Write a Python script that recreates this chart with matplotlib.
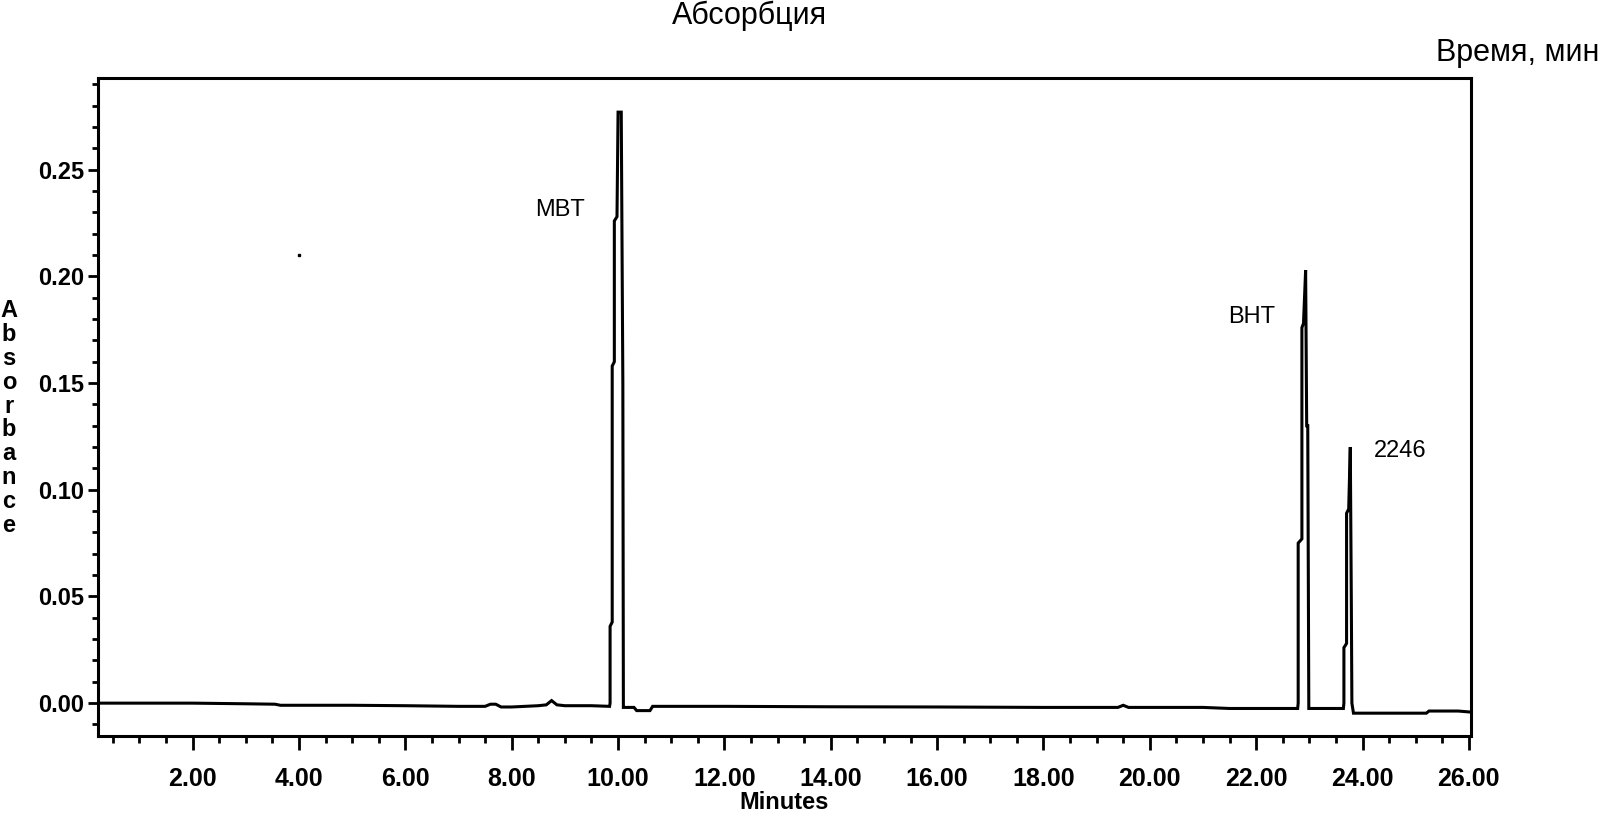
import matplotlib
matplotlib.use("Agg")
import matplotlib.pyplot as plt
from matplotlib.ticker import MultipleLocator, FormatStrFormatter

# ── chromatogram trace (minutes, absorbance) ──
baseline_t = [0.22, 1.0, 2.0, 3.0, 3.55, 3.65, 5.0, 6.0, 7.0, 7.5, 7.6, 7.7, 7.8,
              8.0, 8.5, 8.65, 8.75, 8.85, 9.0, 9.5, 9.84]
baseline_a = [0.0, 0.0, 0.0, -0.0003, -0.0005, -0.001, -0.001, -0.0012, -0.0015,
              -0.0015, -0.0005, -0.0005, -0.0018, -0.0018, -0.0012, -0.0008,
              0.0012, -0.0008, -0.0012, -0.0012, -0.0015]

mbt_t = [9.85, 9.85, 9.89, 9.89, 9.93, 9.93, 9.98, 10.0, 10.06, 10.09, 10.10]
mbt_a = [0.0, 0.036, 0.038, 0.158, 0.160, 0.226, 0.228, 0.277, 0.277, 0.150, -0.002]

mid_t = [10.3, 10.35, 10.6, 10.65, 12.0, 14.0, 16.0, 18.0, 19.4, 19.5, 19.6,
         21.0, 21.5, 22.0, 22.5, 22.78]
mid_a = [-0.002, -0.0035, -0.0035, -0.0015, -0.0015, -0.0017, -0.0018, -0.002,
         -0.002, -0.001, -0.002, -0.002, -0.0025, -0.0025, -0.0025, -0.0025]

bht_t = [22.79, 22.79, 22.86, 22.86, 22.89, 22.93, 22.95, 22.97, 22.99]
bht_a = [0.0, 0.075, 0.077, 0.176, 0.178, 0.203, 0.130, 0.130, -0.0025]

gap_t = [23.2, 23.64]
gap_a = [-0.0025, -0.0025]

p2246_t = [23.65, 23.65, 23.70, 23.70, 23.74, 23.77, 23.79, 23.80, 23.83]
p2246_a = [0.0, 0.026, 0.028, 0.089, 0.091, 0.120, 0.045, 0.0, -0.0047]

tail_t = [24.5, 25.2, 25.25, 25.8, 26.04]
tail_a = [-0.0047, -0.0047, -0.0037, -0.0037, -0.0042]

time = baseline_t + mbt_t + mid_t + bht_t + gap_t + p2246_t + tail_t
absorb = baseline_a + mbt_a + mid_a + bht_a + gap_a + p2246_a + tail_a

peak_names = ["MBT", "BHT", "2246"]
peak_label_t = [8.9, 21.92, 24.71]
peak_label_a = [0.231, 0.181, 0.118]

plt.rcParams["font.family"] = ["Liberation Sans", "DejaVu Sans"]

fig = plt.figure(figsize=(16.05, 8.13), dpi=100)
ax = fig.add_axes([98 / 1605, 1 - 736 / 813, (1471 - 98) / 1605, (736 - 78) / 813])

ax.plot(time, absorb, color="black", linewidth=2.2, solid_joinstyle="miter")
ax.plot([4.0], [0.210], marker="s", markersize=2, color="black")  # stray dot

for name, t, a in zip(peak_names, peak_label_t, peak_label_a):
    ax.text(t, a, name, fontsize=17, ha="center", va="center")

ax.set_xlim(0.22, 26.04)
ax.set_ylim(-0.0154, 0.293)

ax.xaxis.set_major_locator(MultipleLocator(2))
ax.xaxis.set_minor_locator(MultipleLocator(0.5))
ax.yaxis.set_major_locator(MultipleLocator(0.05))
ax.yaxis.set_minor_locator(MultipleLocator(0.01))
ax.xaxis.set_major_formatter(FormatStrFormatter("%.2f"))
ax.yaxis.set_major_formatter(FormatStrFormatter("%.2f"))

ax.tick_params(axis="x", which="major", direction="out", length=10, width=2,
               labelsize=18, pad=12)
ax.tick_params(axis="y", which="major", direction="out", length=7, width=2,
               labelsize=17, pad=3)
ax.tick_params(axis="x", which="minor", direction="out", length=5, width=2)
ax.tick_params(axis="y", which="minor", direction="out", length=4, width=2)
for lab in ax.get_xticklabels() + ax.get_yticklabels():
    lab.set_fontweight("bold")
for s in ax.spines.values():
    s.set_linewidth(2.2)

ax.set_xlabel("Minutes", fontsize=17, fontweight="bold", labelpad=0)

# stacked y-axis label
fig.text(9 / 1605, 1 - 418 / 813, "\n".join("Absorbance"), fontsize=17,
         fontweight="bold", ha="center", va="center", linespacing=1.05)

fig.text(750 / 1605, 1 - 16 / 813, "Абсорбция", fontsize=22, ha="center", va="center")
fig.text(1436 / 1605, 1 - 53 / 813, "Время, мин", fontsize=22, ha="left", va="center")

fig.savefig("out.png", dpi=100)
